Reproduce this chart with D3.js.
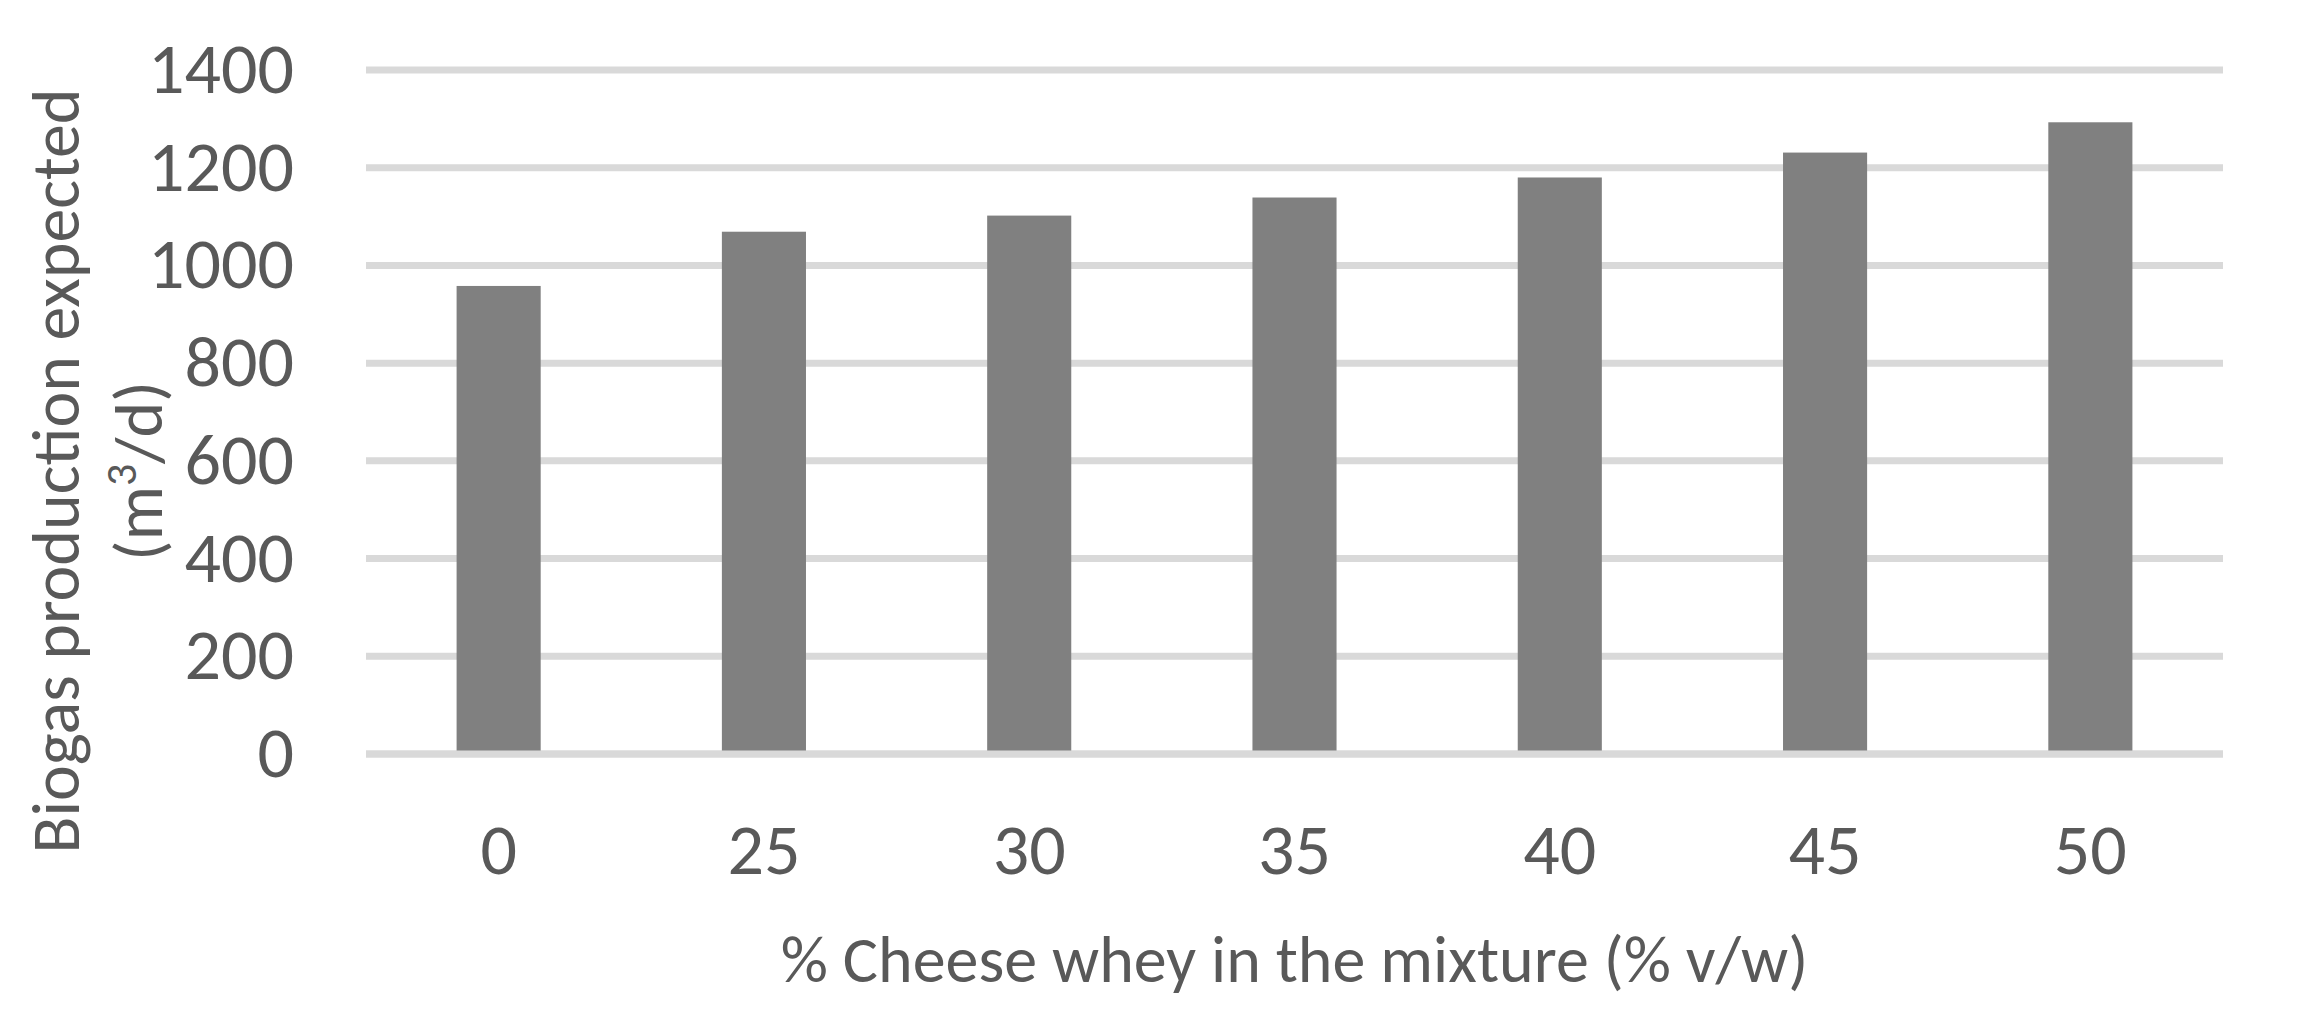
<!DOCTYPE html>
<html>
<head>
<meta charset="utf-8">
<script src="https://cdn.jsdelivr.net/npm/d3@7"></script>
<style>
  body { margin: 0; background: #fff; }
  text { font-family: Carlito, Calibri, "Open Sans", sans-serif; fill: #595959; }
</style>
</head>
<body>
<div id="chart"></div>
<script>
// chart data
const categories = ["0", "25", "30", "35", "40", "45", "50"];
const biogas = [958, 1069, 1102, 1139, 1180, 1231, 1293];
const yTicks = [0, 200, 400, 600, 800, 1000, 1200, 1400];

const width = 2299, height = 1020;
const margin = {top: 70, right: 76, bottom: 266, left: 366};

const svg = d3.select("#chart").append("svg")
    .attr("width", width)
    .attr("height", height);

svg.append("rect").attr("width", width).attr("height", height).attr("fill", "#fff");

const x = d3.scaleBand()
    .domain(categories)
    .range([margin.left, width - margin.right])
    .paddingInner(0.683)
    .paddingOuter(0.3415);

const y = d3.scaleLinear()
    .domain([0, 1400])
    .range([height - margin.bottom, margin.top]);

// gridlines
svg.append("g")
    .selectAll("line")
    .data(yTicks)
    .enter().append("line")
    .attr("x1", margin.left)
    .attr("x2", width - margin.right)
    .attr("y1", d => y(d))
    .attr("y2", d => y(d))
    .attr("stroke", "#d9d9d9")
    .attr("stroke-width", 7);

// bars
svg.append("g")
    .selectAll("rect")
    .data(biogas)
    .enter().append("rect")
    .attr("x", (d, i) => x(categories[i]))
    .attr("width", x.bandwidth())
    .attr("y", d => y(d))
    .attr("height", d => y(0) - y(d))
    .attr("fill", "#808080");

// zero line on top
svg.append("line")
    .attr("x1", margin.left)
    .attr("x2", width - margin.right)
    .attr("y1", y(0))
    .attr("y2", y(0))
    .attr("stroke", "#d9d9d9")
    .attr("stroke-width", 7);

// y tick labels
svg.append("g")
    .selectAll("text")
    .data(yTicks)
    .enter().append("text")
    .attr("x", 294)
    .attr("y", d => y(d) + 23)
    .attr("text-anchor", "end")
    .style("font-size", "72px")
    .text(d => d);

// x tick labels
svg.append("g")
    .selectAll("text")
    .data(categories)
    .enter().append("text")
    .attr("x", d => x(d) + x.bandwidth() / 2)
    .attr("y", 874)
    .attr("text-anchor", "middle")
    .style("font-size", "72px")
    .text(d => d);

// x title
svg.append("text")
    .attr("x", (margin.left + width - margin.right) / 2)
    .attr("y", 982)
    .attr("text-anchor", "middle")
    .style("font-size", "66px")
    .text("% Cheese whey in the mixture (% v/w)");

// y title, two lines
const yTitle = svg.append("g")
    .attr("transform", "translate(0,471) rotate(-90)");

yTitle.append("text")
    .attr("x", 0)
    .attr("y", 79)
    .attr("text-anchor", "middle")
    .style("font-size", "68px")
    .text("Biogas production expected");

const unit = yTitle.append("text")
    .attr("x", 0)
    .attr("y", 162)
    .attr("text-anchor", "middle")
    .style("font-size", "68px");
unit.append("tspan").text("(m");
unit.append("tspan").attr("dy", -26).style("font-size", "44px").text("3");
unit.append("tspan").attr("dy", 26).text("/d)");
</script>
</body>
</html>
